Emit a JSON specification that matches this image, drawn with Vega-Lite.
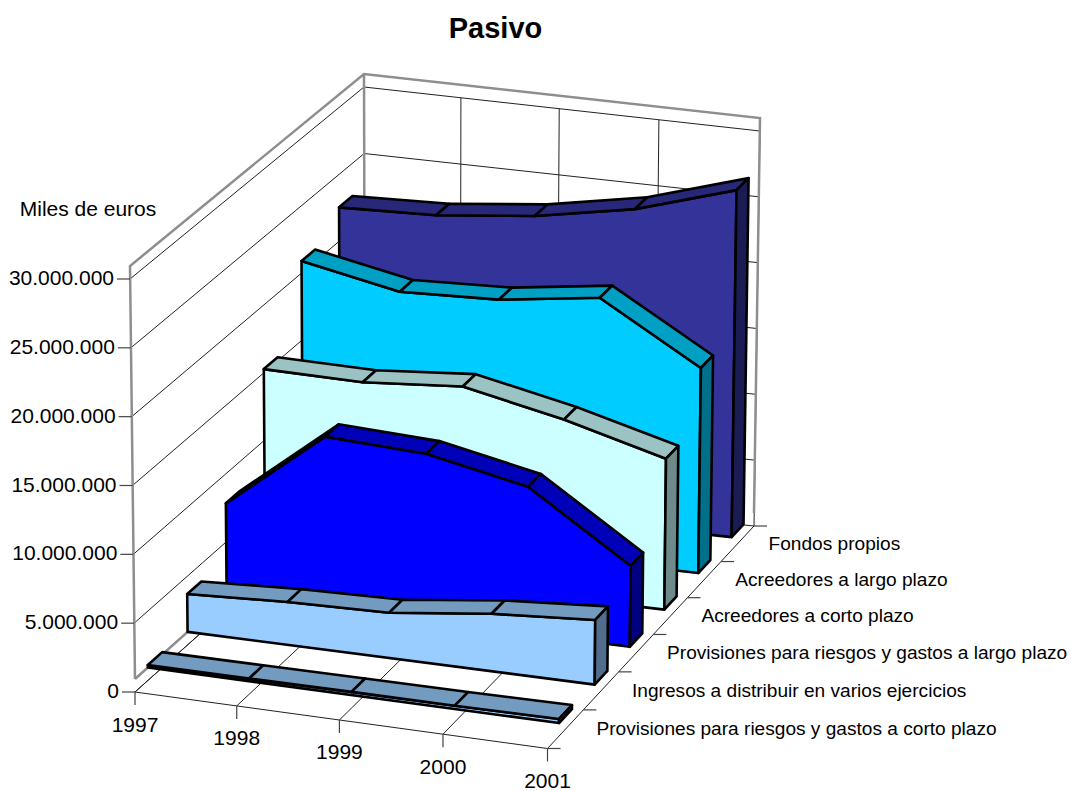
{
"$schema":"https://vega.github.io/schema/vega-lite/v6.json",
"width":1071,"height":745,"autosize":{"type":"none"},"padding":{"top":46,"left":0,"right":0,"bottom":0},
"background":"white",
"title":{"text":"Pasivo","font":"Liberation Sans","fontSize":29,"fontWeight":"bold","color":"black","anchor":"middle","dx":-40,"offset":2},
"config":{"view":{"stroke":null},"font":"Liberation Sans"},
"datasets":{
"series":[
{"series":"Fondos propios","k":5,"year":1997,"value":21570000},
{"series":"Fondos propios","k":5,"year":1998,"value":21800000},
{"series":"Fondos propios","k":5,"year":1999,"value":22570000},
{"series":"Fondos propios","k":5,"year":2000,"value":23940000},
{"series":"Fondos propios","k":5,"year":2001,"value":26240000},
{"series":"Acreedores a largo plazo","k":4,"year":1997,"value":19930000},
{"series":"Acreedores a largo plazo","k":4,"year":1998,"value":18490000},
{"series":"Acreedores a largo plazo","k":4,"year":1999,"value":18770000},
{"series":"Acreedores a largo plazo","k":4,"year":2000,"value":19790000},
{"series":"Acreedores a largo plazo","k":4,"year":2001,"value":15410000},
{"series":"Acreedores a corto plazo","k":3,"year":1997,"value":14320000},
{"series":"Acreedores a corto plazo","k":3,"year":1998,"value":14230000},
{"series":"Acreedores a corto plazo","k":3,"year":1999,"value":14820000},
{"series":"Acreedores a corto plazo","k":3,"year":2000,"value":13270000},
{"series":"Acreedores a corto plazo","k":3,"year":2001,"value":11270000},
{"series":"Provisiones para riesgos y gastos a largo plazo","k":2,"year":1997,"value":6890000},
{"series":"Provisiones para riesgos y gastos a largo plazo","k":2,"year":1998,"value":12730000},
{"series":"Provisiones para riesgos y gastos a largo plazo","k":2,"year":1999,"value":12410000},
{"series":"Provisiones para riesgos y gastos a largo plazo","k":2,"year":2000,"value":10910000},
{"series":"Provisiones para riesgos y gastos a largo plazo","k":2,"year":2001,"value":6010000},
{"series":"Ingresos a distribuir en varios ejercicios","k":1,"year":1997,"value":2770000},
{"series":"Ingresos a distribuir en varios ejercicios","k":1,"year":1998,"value":3150000},
{"series":"Ingresos a distribuir en varios ejercicios","k":1,"year":1999,"value":3320000},
{"series":"Ingresos a distribuir en varios ejercicios","k":1,"year":2000,"value":4230000},
{"series":"Ingresos a distribuir en varios ejercicios","k":1,"year":2001,"value":4770000},
{"series":"Provisiones para riesgos y gastos a corto plazo","k":0,"year":1997,"value":180000},
{"series":"Provisiones para riesgos y gastos a corto plazo","k":0,"year":1998,"value":200000},
{"series":"Provisiones para riesgos y gastos a corto plazo","k":0,"year":1999,"value":230000},
{"series":"Provisiones para riesgos y gastos a corto plazo","k":0,"year":2000,"value":240000},
{"series":"Provisiones para riesgos y gastos a corto plazo","k":0,"year":2001,"value":300000}
],
"values":[
{"label":"0","h":0},{"label":"5.000.000","h":5000000},{"label":"10.000.000","h":10000000},{"label":"15.000.000","h":15000000},{"label":"20.000.000","h":20000000},{"label":"25.000.000","h":25000000},{"label":"30.000.000","h":30000000}
],
"years":[
{"label":"1997","t":0},{"label":"1998","t":0.25},{"label":"1999","t":0.5},{"label":"2000","t":0.75},{"label":"2001","t":1}
],
"cats":[
{"label":"Provisiones para riesgos y gastos a corto plazo","k":0},
{"label":"Ingresos a distribuir en varios ejercicios","k":1},
{"label":"Provisiones para riesgos y gastos a largo plazo","k":2},
{"label":"Acreedores a corto plazo","k":3},
{"label":"Acreedores a largo plazo","k":4},
{"label":"Fondos propios","k":5},
{"label":"","k":6}
]
},
"layer":[
{"data":{"name":"values"},
 "transform":[
 {"calculate":"[{o:0,t:0,d:0},{o:1,t:0,d:1},{o:2,t:1,d:1}]","as":"v"},{"flatten":["v"]},
 {"calculate":"datum.v.t","as":"t"},{"calculate":"datum.v.d","as":"d"},{"calculate":"datum.v.o","as":"o"},
 {"calculate":"(1-datum.t)*(1-datum.d)*135+datum.t*(1-datum.d)*547.5+datum.t*datum.d*754+(1-datum.t)*datum.d*365+((1-datum.t)*(1-datum.d)*(130-135)+datum.t*(1-datum.d)*(550-547.5)+datum.t*datum.d*(760-754)+(1-datum.t)*datum.d*(364-365))*datum.h/3e7","as":"px"},
 {"calculate":"(1-datum.t)*(1-datum.d)*679+datum.t*(1-datum.d)*735.5+datum.t*datum.d*513+(1-datum.t)*datum.d*473+((1-datum.t)*(1-datum.d)*(266-679)+datum.t*(1-datum.d)*(325-735.5)+datum.t*datum.d*(118-513)+(1-datum.t)*datum.d*(74-473))*datum.h/3e7+13","as":"py"}],
 "mark":{"type":"line","stroke":"#222222","strokeWidth":1},
 "encoding":{"x":{"field":"px","type":"quantitative","scale":{"domain":[0,1071]},"axis":null},"y":{"field":"py","type":"quantitative","scale":{"domain":[791,46]},"axis":null},"detail":{"field":"label"},"order":{"field":"o"}}},
{"data":{"name":"years"},
 "transform":[
 {"calculate":"[{o:0,d:0,h:0},{o:1,d:1,h:0},{o:2,d:1,h:3e7}]","as":"v"},{"flatten":["v"]},
 {"calculate":"datum.v.h","as":"h"},{"calculate":"datum.v.d","as":"d"},{"calculate":"datum.v.o","as":"o"},
 {"calculate":"datum.t-(0.018+0.01*datum.d)*datum.t*(1-datum.t)","as":"tw"},
 {"calculate":"(1-datum.tw)*(1-datum.d)*135+datum.tw*(1-datum.d)*547.5+datum.tw*datum.d*754+(1-datum.tw)*datum.d*365+((1-datum.tw)*(1-datum.d)*(130-135)+datum.tw*(1-datum.d)*(550-547.5)+datum.tw*datum.d*(760-754)+(1-datum.tw)*datum.d*(364-365))*datum.h/3e7","as":"px"},
 {"calculate":"(1-datum.tw)*(1-datum.d)*679+datum.tw*(1-datum.d)*735.5+datum.tw*datum.d*513+(1-datum.tw)*datum.d*473+((1-datum.tw)*(1-datum.d)*(266-679)+datum.tw*(1-datum.d)*(325-735.5)+datum.tw*datum.d*(118-513)+(1-datum.tw)*datum.d*(74-473))*datum.h/3e7+13","as":"py"}],
 "mark":{"type":"line","stroke":"#222222","strokeWidth":1},
 "encoding":{"x":{"field":"px","type":"quantitative","scale":{"domain":[0,1071]},"axis":null},"y":{"field":"py","type":"quantitative","scale":{"domain":[791,46]},"axis":null},"detail":{"field":"label"},"order":{"field":"o"}}},
{"data":{"values":[{"edge":"front"}]},
 "transform":[
 {"calculate":"[{o:0,t:0},{o:1,t:1}]","as":"v"},{"flatten":["v"]},
 {"calculate":"datum.v.t","as":"t"},{"calculate":"datum.v.o","as":"o"},
 {"calculate":"135+datum.t*412.5","as":"px"},
 {"calculate":"679+datum.t*56.5+13","as":"py"}],
 "mark":{"type":"line","stroke":"#222222","strokeWidth":1},
 "encoding":{"x":{"field":"px","type":"quantitative","scale":{"domain":[0,1071]},"axis":null},"y":{"field":"py","type":"quantitative","scale":{"domain":[791,46]},"axis":null},"order":{"field":"o"}}},
{"data":{"values":[{"edge":"wall"},{"edge":"rear"},{"edge":"floor"}]},
 "transform":[
 {"calculate":"datum.edge=='wall'?[{o:0,t:0,d:0,h:0},{o:1,t:0,d:0,h:3e7},{o:2,t:0,d:1,h:3e7},{o:3,t:1,d:1,h:3e7},{o:4,t:1,d:1,h:0}]:datum.edge=='rear'?[{o:0,t:0,d:1,h:3e7},{o:1,t:0,d:1,h:0}]:[{o:0,t:0,d:0,h:0},{o:1,t:0,d:1,h:0}]","as":"v"},{"flatten":["v"]},
 {"calculate":"datum.v.t","as":"t"},{"calculate":"datum.v.d","as":"d"},{"calculate":"datum.v.h","as":"h"},{"calculate":"datum.v.o","as":"o"},
 {"calculate":"(1-datum.t)*(1-datum.d)*135+datum.t*(1-datum.d)*547.5+datum.t*datum.d*754+(1-datum.t)*datum.d*365+((1-datum.t)*(1-datum.d)*(130-135)+datum.t*(1-datum.d)*(550-547.5)+datum.t*datum.d*(760-754)+(1-datum.t)*datum.d*(364-365))*datum.h/3e7","as":"px"},
 {"calculate":"(1-datum.t)*(1-datum.d)*679+datum.t*(1-datum.d)*735.5+datum.t*datum.d*513+(1-datum.t)*datum.d*473+((1-datum.t)*(1-datum.d)*(266-679)+datum.t*(1-datum.d)*(325-735.5)+datum.t*datum.d*(118-513)+(1-datum.t)*datum.d*(74-473))*datum.h/3e7","as":"py"}],
 "mark":{"type":"line","stroke":"#8E8E8E","strokeWidth":2.5},
 "encoding":{"x":{"field":"px","type":"quantitative","scale":{"domain":[0,1071]},"axis":null},"y":{"field":"py","type":"quantitative","scale":{"domain":[791,46]},"axis":null},"detail":{"field":"edge"},"order":{"field":"o"}}},
{"data":{"name":"values"},
 "transform":[
 {"calculate":"135-5*datum.h/3e7","as":"px"},{"calculate":"692-413*datum.h/3e7","as":"py"},{"calculate":"datum.px-13","as":"px2"}],
 "mark":{"type":"rule","stroke":"#444444","strokeWidth":1.2},
 "encoding":{"x":{"field":"px","type":"quantitative","scale":{"domain":[0,1071]},"axis":null},"x2":{"field":"px2"},"y":{"field":"py","type":"quantitative","scale":{"domain":[791,46]},"axis":null}}},
{"data":{"name":"years"},
 "transform":[
 {"calculate":"datum.t-0.018*datum.t*(1-datum.t)","as":"tw"},
 {"calculate":"135+412.5*datum.tw","as":"px"},{"calculate":"692+56.5*datum.tw","as":"py"},{"calculate":"datum.py+13","as":"py2"}],
 "mark":{"type":"rule","stroke":"#444444","strokeWidth":1.2},
 "encoding":{"x":{"field":"px","type":"quantitative","scale":{"domain":[0,1071]},"axis":null},"y":{"field":"py","type":"quantitative","scale":{"domain":[791,46]},"axis":null},"y2":{"field":"py2"}}},
{"data":{"name":"cats"},
 "transform":[
 {"calculate":"datum.k/6","as":"r"},{"calculate":"datum.r*(1+0.05*(1-datum.r))","as":"d"},
 {"calculate":"547.5+206.5*datum.d","as":"px"},{"calculate":"748.5-222.5*datum.d","as":"py"},{"calculate":"datum.px+13","as":"px2"}],
 "mark":{"type":"rule","stroke":"#444444","strokeWidth":1.2},
 "encoding":{"x":{"field":"px","type":"quantitative","scale":{"domain":[0,1071]},"axis":null},"x2":{"field":"px2"},"y":{"field":"py","type":"quantitative","scale":{"domain":[791,46]},"axis":null}}},
{"data":{"name":"series"},
 "transform":[
 {"window":[{"op":"lead","field":"value","as":"next"}],"groupby":["series"],"sort":[{"field":"year"}]},
 {"calculate":"(datum.year-1997)/4","as":"t0"},{"calculate":"datum.t0+0.25","as":"tn"},
 {"calculate":"(datum.k+0.32)/6","as":"df0"},{"calculate":"(datum.k+0.68)/6","as":"db0"},
 {"calculate":"datum.df0*(1+0.05*(1-datum.df0))","as":"df"},{"calculate":"datum.db0*(1+0.05*(1-datum.db0))","as":"db"},
 {"calculate":"datum.year<2001?[{part:'front',face:'front',o:datum.t0,t:datum.t0,d:datum.df,h:datum.value},{part:'top',face:'top'+datum.year,o:0,t:datum.t0,d:datum.df,h:datum.value},{part:'top',face:'top'+datum.year,o:1,t:datum.tn,d:datum.df,h:datum.next},{part:'top',face:'top'+datum.year,o:2,t:datum.tn,d:datum.db,h:datum.next},{part:'top',face:'top'+datum.year,o:3,t:datum.t0,d:datum.db,h:datum.value}]:[{part:'front',face:'front',o:1,t:1,d:datum.df,h:datum.value},{part:'front',face:'front',o:2,t:1,d:datum.df,h:0},{part:'front',face:'front',o:3,t:0,d:datum.df,h:0},{part:'side',face:'side',o:0,t:1,d:datum.df,h:datum.value},{part:'side',face:'side',o:1,t:1,d:datum.db,h:datum.value},{part:'side',face:'side',o:2,t:1,d:datum.db,h:0},{part:'side',face:'side',o:3,t:1,d:datum.df,h:0}]","as":"v"},
 {"flatten":["v"]},
 {"calculate":"datum.v.t","as":"t"},{"calculate":"datum.v.d","as":"d"},{"calculate":"datum.v.h","as":"h"},{"calculate":"datum.v.o","as":"o"},
 {"calculate":"datum.k+'-'+datum.v.part","as":"fillkey"},{"calculate":"datum.k+'-'+datum.v.face","as":"path"},
 {"calculate":"datum.t-(0.018+0.01*datum.d)*datum.t*(1-datum.t)","as":"tw"},
 {"calculate":"(1-datum.tw)*(1-datum.d)*135+datum.tw*(1-datum.d)*547.5+datum.tw*datum.d*754+(1-datum.tw)*datum.d*365+((1-datum.tw)*(1-datum.d)*(130-135)+datum.tw*(1-datum.d)*(550-547.5)+datum.tw*datum.d*(760-754)+(1-datum.tw)*datum.d*(364-365))*datum.h/3e7","as":"px"},
 {"calculate":"(1-datum.tw)*(1-datum.d)*679+datum.tw*(1-datum.d)*735.5+datum.tw*datum.d*513+(1-datum.tw)*datum.d*473+((1-datum.tw)*(1-datum.d)*(266-679)+datum.tw*(1-datum.d)*(325-735.5)+datum.tw*datum.d*(118-513)+(1-datum.tw)*datum.d*(74-473))*datum.h/3e7","as":"py"}],
 "mark":{"type":"line","interpolate":"linear-closed","stroke":"black","strokeWidth":2.6,"strokeJoin":"round"},
 "encoding":{"x":{"field":"px","type":"quantitative","scale":{"domain":[0,1071]},"axis":null},"y":{"field":"py","type":"quantitative","scale":{"domain":[791,46]},"axis":null},
 "detail":{"field":"path"},"order":{"field":"o"},
 "fill":{"field":"fillkey","type":"nominal","legend":null,"scale":{
 "domain":["5-front","5-top","5-side","4-front","4-top","4-side","3-front","3-top","3-side","2-front","2-top","2-side","1-front","1-top","1-side","0-front","0-top","0-side"],
 "range":["#333399","#28287A","#1C1C54","#00CCFF","#009FC4","#006F8A","#CCFFFF","#9CC3C3","#6E8A8A","#0000FF","#0000B8","#000080","#99CCFF","#739ABF","#506E8C","#99CCFF","#739ABF","#506E8C"]}}}},
{"data":{"name":"values"},
 "transform":[{"calculate":"135-5*datum.h/3e7","as":"px"},{"calculate":"692-413*datum.h/3e7","as":"py"}],
 "mark":{"type":"text","align":"right","baseline":"middle","dx":-16,"fontSize":21,"font":"Liberation Sans","fill":"black"},
 "encoding":{"x":{"field":"px","type":"quantitative","scale":{"domain":[0,1071]},"axis":null},"y":{"field":"py","type":"quantitative","scale":{"domain":[791,46]},"axis":null},"text":{"field":"label"}}},
{"data":{"name":"years"},
 "transform":[{"calculate":"datum.t-0.018*datum.t*(1-datum.t)","as":"tw"},{"calculate":"135+412.5*datum.tw","as":"px"},{"calculate":"692+56.5*datum.tw","as":"py"}],
 "mark":{"type":"text","align":"center","baseline":"middle","dy":33.5,"fontSize":21,"font":"Liberation Sans","fill":"black"},
 "encoding":{"x":{"field":"px","type":"quantitative","scale":{"domain":[0,1071]},"axis":null},"y":{"field":"py","type":"quantitative","scale":{"domain":[791,46]},"axis":null},"text":{"field":"label"}}},
{"data":{"name":"cats"},
 "transform":[{"filter":"datum.k<6"},
 {"calculate":"(datum.k+0.5)/6","as":"r"},{"calculate":"datum.r*(1+0.05*(1-datum.r))","as":"d"},
 {"calculate":"547.5+206.5*datum.d","as":"px"},{"calculate":"748.5-222.5*datum.d","as":"py"}],
 "mark":{"type":"text","align":"left","baseline":"middle","dx":31,"fontSize":19.1,"font":"Liberation Sans","fill":"black"},
 "encoding":{"x":{"field":"px","type":"quantitative","scale":{"domain":[0,1071]},"axis":null},"y":{"field":"py","type":"quantitative","scale":{"domain":[791,46]},"axis":null},"text":{"field":"label"}}},
{"data":{"values":[{"label":"Miles de euros","h":30000000}]},
 "transform":[{"calculate":"135-5*datum.h/3e7","as":"px"},{"calculate":"692-413*datum.h/3e7","as":"py"}],
 "mark":{"type":"text","align":"center","baseline":"middle","dx":-42,"dy":-69,"fontSize":21,"font":"Liberation Sans","fill":"black"},
 "encoding":{"x":{"field":"px","type":"quantitative","scale":{"domain":[0,1071]},"axis":null},"y":{"field":"py","type":"quantitative","scale":{"domain":[791,46]},"axis":null},"text":{"field":"label"}}}
]
}
